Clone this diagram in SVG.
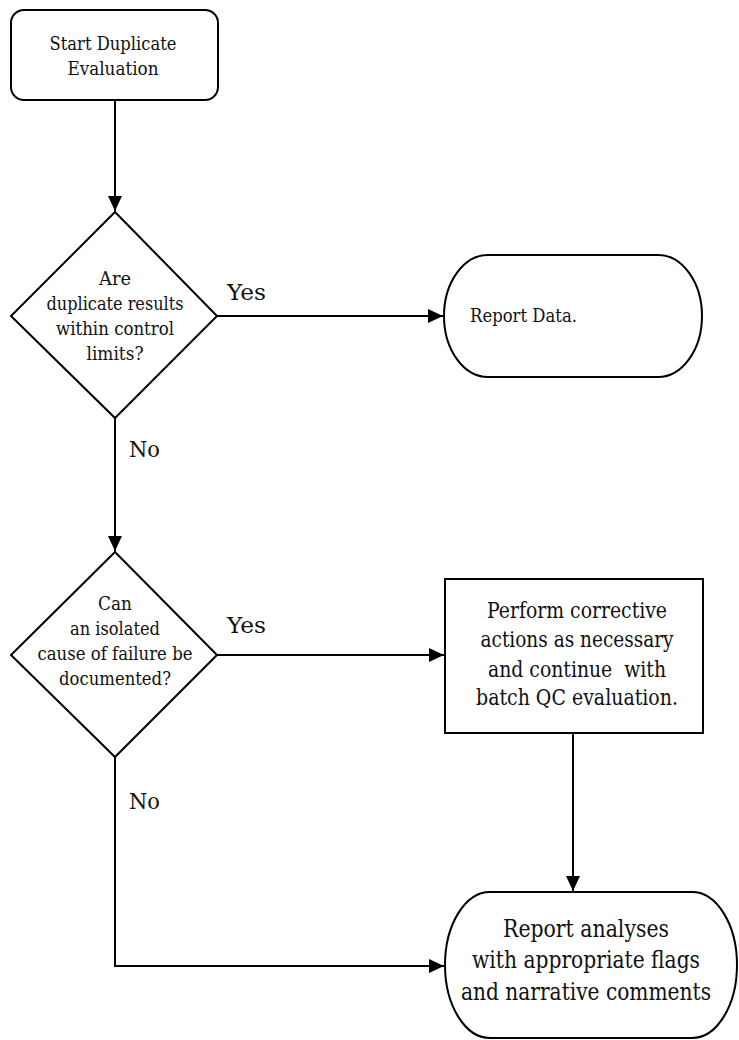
<svg xmlns="http://www.w3.org/2000/svg" width="739" height="1040" viewBox="0 0 739 1040">
<style>
.shape{fill:#fff;stroke:#000;stroke-width:2}
.conn{fill:none;stroke:#000;stroke-width:2}
text{font-family:"DejaVu Serif","Liberation Serif",serif;fill:#111}
.t21{font-size:19px;text-anchor:middle}
.t24{font-size:21.5px;text-anchor:middle}
.t26{font-size:23.5px;text-anchor:middle}
.lbl{font-size:22.5px}
</style>
<defs>
<marker id="ah" viewBox="0 0 15 14" refX="15" refY="7" markerWidth="15" markerHeight="14" markerUnits="userSpaceOnUse" orient="auto">
<path d="M0,0 L15,7 L0,14 Z" fill="#000"/>
</marker>
</defs>
<g id="connectors">
<path class="conn" d="M115,100 V211" marker-end="url(#ah)"/>
<path class="conn" d="M217,316 H443" marker-end="url(#ah)"/>
<path class="conn" d="M115,418 V551" marker-end="url(#ah)"/>
<path class="conn" d="M217,655 H444" marker-end="url(#ah)"/>
<path class="conn" d="M573,733 V891" marker-end="url(#ah)"/>
<path class="conn" d="M115,757 V966 H444" marker-end="url(#ah)"/>
<text class="lbl" x="227" y="300" textLength="39" lengthAdjust="spacingAndGlyphs">Yes</text>
<text class="lbl" x="129" y="457" textLength="31" lengthAdjust="spacingAndGlyphs">No</text>
<text class="lbl" x="227" y="633" textLength="39" lengthAdjust="spacingAndGlyphs">Yes</text>
<text class="lbl" x="129" y="809" textLength="31" lengthAdjust="spacingAndGlyphs">No</text>
</g>
<g id="start">
<rect class="shape" x="11" y="10" width="207" height="90" rx="13" ry="13"/>
<text class="t21" x="113" y="50" textLength="127" lengthAdjust="spacingAndGlyphs">Start Duplicate</text>
<text class="t21" x="113" y="75" textLength="91" lengthAdjust="spacingAndGlyphs">Evaluation</text>
</g>
<g id="decision1">
<path class="shape" d="M115,212 L217,316 L115,418 L11,316 Z"/>
<text class="t21" x="115" y="285" textLength="32" lengthAdjust="spacingAndGlyphs">Are</text>
<text class="t21" x="115" y="310" textLength="137" lengthAdjust="spacingAndGlyphs">duplicate results</text>
<text class="t21" x="115" y="335" textLength="118" lengthAdjust="spacingAndGlyphs">within control</text>
<text class="t21" x="115" y="360" textLength="57" lengthAdjust="spacingAndGlyphs">limits?</text>
</g>
<g id="report-data">
<rect class="shape" x="444" y="255" width="258" height="122" rx="44" ry="61"/>
<text style="font-size:19px" x="470" y="322" textLength="107" lengthAdjust="spacingAndGlyphs">Report Data.</text>
</g>
<g id="decision2">
<path class="shape" d="M115,552 L217,655 L115,757 L11,655 Z"/>
<text class="t21" x="115" y="610" textLength="34" lengthAdjust="spacingAndGlyphs">Can</text>
<text class="t21" x="115" y="635" textLength="90" lengthAdjust="spacingAndGlyphs">an isolated</text>
<text class="t21" x="115" y="660" textLength="155" lengthAdjust="spacingAndGlyphs">cause of failure be</text>
<text class="t21" x="115" y="685" textLength="112" lengthAdjust="spacingAndGlyphs">documented?</text>
</g>
<g id="corrective">
<rect class="shape" x="445" y="579" width="258" height="154"/>
<text class="t24" x="577" y="618" textLength="180" lengthAdjust="spacingAndGlyphs">Perform corrective</text>
<text class="t24" x="577" y="647" textLength="193" lengthAdjust="spacingAndGlyphs">actions as necessary</text>
<text class="t24" x="577" y="677" textLength="178" lengthAdjust="spacingAndGlyphs" xml:space="preserve" style="white-space:pre">and continue  with</text>
<text class="t24" x="577" y="705" textLength="202" lengthAdjust="spacingAndGlyphs">batch QC evaluation.</text>
</g>
<g id="report-analyses">
<rect class="shape" x="445" y="892" width="292" height="146" rx="45" ry="73"/>
<text class="t26" x="586" y="937" textLength="166" lengthAdjust="spacingAndGlyphs">Report analyses</text>
<text class="t26" x="586" y="968" textLength="228" lengthAdjust="spacingAndGlyphs">with appropriate flags</text>
<text class="t26" x="586" y="1000" textLength="250" lengthAdjust="spacingAndGlyphs">and narrative comments</text>
</g>
</svg>
